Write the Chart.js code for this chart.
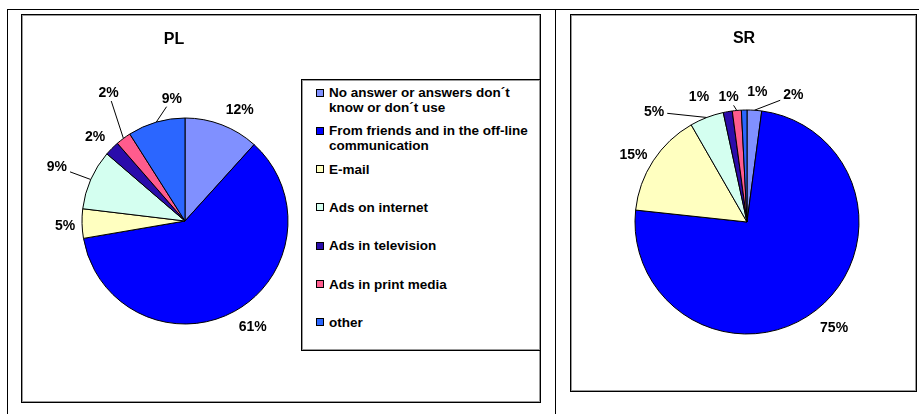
<!DOCTYPE html>
<html>
<head>
<meta charset="utf-8">
<script src="https://cdn.jsdelivr.net/npm/chart.js@4.4.0/dist/chart.umd.min.js"></script>
<style>
    body { margin: 0; background: #fff; font-family: "Liberation Sans", Arial, sans-serif; }
    #page { position: relative; width: 919px; height: 414px; overflow: hidden; }
    .rule { position: absolute; background: #000; }
    .box { position: absolute; box-sizing: border-box; border: 1px solid #000; box-shadow: inset 0 0 0 1px #999; background: #fff; }
    canvas { position: absolute; }
    .title { position: absolute; width: 80px; text-align: center; font-weight: bold; font-size: 16px; line-height: 16px; }
    .legend-item { position: absolute; left: 27px; width: 210px; font-weight: bold; font-size: 13.5px; line-height: 15px; }
    .swatch { position: absolute; left: -13px; top: 3.5px; width: 8px; height: 8px; box-sizing: border-box; border: 1px solid #000; }
</style>
</head>
<body>
<div id="page">
    <div class="rule" style="left:7px; top:9px; width:912px; height:1px;"></div>
    <div class="rule" style="left:7px; top:9px; width:1px; height:405px;"></div>
    <div class="rule" style="left:555px; top:9px; width:1px; height:405px;"></div>

    <div class="box" style="left:21px; top:14px; width:520px; height:389px;"></div>
    <div class="box" style="left:570px; top:14px; width:347px; height:378px;"></div>

    <canvas id="pl-chart" width="518" height="387" style="left:22px; top:15px;"></canvas>
    <canvas id="sr-chart" width="345" height="376" style="left:571px; top:15px;"></canvas>

    <div class="title" style="left:134px; top:31px;">PL</div>
    <div class="title" style="left:704px; top:30px;">SR</div>

    <div class="box" id="legend" style="left:301px; top:79px; width:240px; height:272px;"></div>
</div>

<script>
// Data
const categories = [
    'No answer or answers don\u00b4t know or don\u00b4t use',
    'From friends and in the off-line communication',
    'E-mail',
    'Ads on internet',
    'Ads in television',
    'Ads in print media',
    'other'
];
const plValues = [11.7, 60.6, 4.6, 9.4, 2.3, 2.4, 9.0];
const srValues = [2.1, 74.6, 15.0, 4.9, 1.3, 1.3, 0.8];

const sliceColors = ['#8090ff', '#0000ff', '#ffffc0', '#d4fff0', '#2a0cab', '#ff5c8d', '#2b66ff'];

// label placement: [angle shift in degrees, distance beyond the rim]
const plLabelShift = [[5.1, 21], [-3.7, 23], [-1, 17], [-0.9, 36], [-1.8, 20], [5.9, 46], [10.1, 20]];
const plLeader = [false, false, false, true, false, true, true];
const srLabelShift = [[16.3, 23], [-1.3, 25], [-2.5, 20], [-19.1, 32], [-11.1, 22], [-3.2, 14], [6, 18]];
const srLeader = [true, false, false, true, false, true, false];

const sliceLabels = {
    id: 'sliceLabels',
    afterDatasetsDraw(chart, args, opts) {
        const ctx = chart.ctx;
        const values = chart.data.datasets[0].data;
        const total = values.reduce((a, b) => a + b, 0);
        ctx.save();
        ctx.font = 'bold 14px "Liberation Sans", Arial, sans-serif';
        ctx.fillStyle = '#000';
        ctx.strokeStyle = '#000';
        ctx.lineWidth = 1;
        ctx.textAlign = 'center';
        ctx.textBaseline = 'middle';
        chart.getDatasetMeta(0).data.forEach((arc, i) => {
            const p = arc.getProps(['x', 'y', 'startAngle', 'endAngle', 'outerRadius'], true);
            const mid = (p.startAngle + p.endAngle) / 2;
            const a = mid + opts.shift[i][0] * Math.PI / 180;
            const dist = p.outerRadius + opts.shift[i][1];
            const lx = p.x + Math.cos(a) * dist;
            const ly = p.y + Math.sin(a) * dist;
            const text = Math.round(values[i] / total * 100) + '%';
            ctx.fillText(text, lx, ly);

            if (opts.leader[i]) {
                const ex = p.x + Math.cos(mid) * p.outerRadius;
                const ey = p.y + Math.sin(mid) * p.outerRadius;
                const dx = ex - lx, dy = ey - ly;
                const hw = ctx.measureText(text).width / 2 + 3, hh = 8;
                const t = Math.min(hw / Math.max(Math.abs(dx), 1e-6), hh / Math.max(Math.abs(dy), 1e-6));
                ctx.beginPath();
                ctx.moveTo(lx + dx * t, ly + dy * t);
                ctx.lineTo(ex, ey);
                ctx.stroke();
            }
        });
        ctx.restore();
    }
};

function makePie(id, values, radius, padding, shift, leader) {
    const ctx = document.getElementById(id).getContext('2d');
    return new Chart(ctx, {
        type: 'pie',
        data: {
            labels: categories,
            datasets: [{
                data: values,
                backgroundColor: sliceColors,
                borderColor: '#000',
                borderWidth: 1,
                hoverOffset: 0
            }]
        },
        options: {
            responsive: false,
            animation: false,
            events: [],
            radius: radius,
            layout: { padding: padding },
            plugins: {
                legend: { display: false },
                tooltip: { enabled: false },
                sliceLabels: { shift: shift, leader: leader }
            }
        },
        plugins: [sliceLabels]
    });
}

makePie('pl-chart', plValues, 103, { left: 60, top: 103, right: 252, bottom: 78 }, plLabelShift, plLeader);
makePie('sr-chart', srValues, 112, { left: 64, top: 95, right: 57, bottom: 57 }, srLabelShift, srLeader);

// Legend (PL panel)
const legend = document.getElementById('legend');
categories.forEach((name, i) => {
    const item = document.createElement('div');
    item.className = 'legend-item';
    item.style.top = (5 + i * 38.3) + 'px';
    const sw = document.createElement('span');
    sw.className = 'swatch';
    sw.style.background = sliceColors[i];
    item.appendChild(sw);
    item.appendChild(document.createTextNode(name));
    legend.appendChild(item);
});
</script>
</body>
</html>
